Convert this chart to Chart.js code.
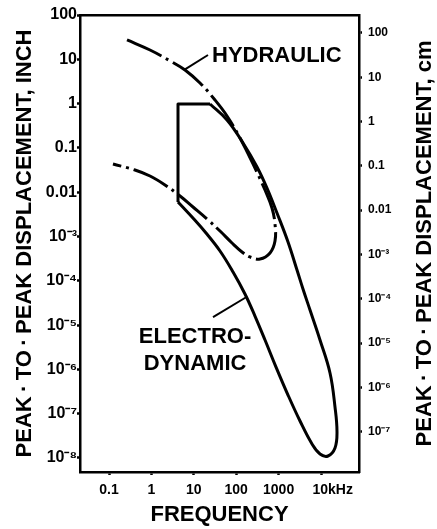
<!DOCTYPE html>
<html>
<head>
<meta charset="utf-8">
<script src="https://cdn.jsdelivr.net/npm/chart.js@4/dist/chart.umd.min.js"></script>
<style>
  html, body { margin: 0; padding: 0; background: #fff; }
  canvas { display: block; }
</style>
</head>
<body>
<canvas id="chart" width="437" height="529"></canvas>
<script>
// Frequency axis (Hz): decade ticks and their labels
const freqTicks = [0.1, 1, 10, 100, 1000, 10000];
const freqTickLabels = ['0.1', '1', '10', '100', '1000', '      10kHz'];

// Displacement axes: inch on the left, cm on the right
const inchTicks = [1e-8, 1e-7, 1e-6, 1e-5, 1e-4, 1e-3, 0.01, 0.1, 1, 10, 100];
const inchTickLabels = ['10⁻⁸', '10⁻⁷', '10⁻⁶', '10⁻⁵', '10⁻⁴', '10⁻³', '0.01', '0.1', '1', '10', '100'];
const cmTicks = [1e-7, 1e-6, 1e-5, 1e-4, 1e-3, 0.01, 0.1, 1, 10, 100];
const cmTickLabels = ['10⁻⁷', '10⁻⁶', '10⁻⁵', '10⁻⁴', '10⁻³', '0.01', '0.1', '1', '10', '100'];

// Axis ranges
const freqRange = [0.0207, 78700];
const inchRange = [4.83e-9, 100];
const CM_PER_INCH = 2.54;

// Hydraulic shaker envelope (dash-dot): frequency in Hz, displacement in inch
const hydraulicFreq = [0.266, 0.927, 3.06, 6.2, 14.0, 31.6, 60.7, 123, 249, 478, 698, 822,
                       822, 627, 364, 211, 137, 79.6, 41.5, 20.5, 9.57, 4.73, 2.09, 0.927, 0.41, 0.124];
const hydraulicDisp = [27.3, 16.2, 8.69, 5.73, 2.92, 1.205, 0.525, 0.167, 0.0434, 0.0112, 0.0044, 0.00191,
                       0.000791, 0.000425, 0.00031, 0.000345, 0.000447, 0.000713, 0.00133, 0.00248,
                       0.00463, 0.0082, 0.0146, 0.0232, 0.0317, 0.0434];

// Electrodynamic shaker envelope (solid): low-frequency stroke limit
const electroLimitFreq = [4.24, 4.24, 24.1];
const electroLimitDisp = [0.00601, 0.98, 0.98];
// Electrodynamic shaker envelope: upper limits down to the resonance tip, then the lower bound back
const electroFreq = [24.1, 60.7, 145, 310, 532, 916, 1667, 2716, 3758, 5505, 9470, 16300, 21380, 23830, 21380,
                     14620, 9470, 6138, 3199, 1667, 869, 478, 277, 161, 84.2, 41.5, 19.4, 9.08, 4.24];
const electroDisp = [0.98, 0.427, 0.129, 0.0371, 0.0124, 0.00339, 7.52e-4, 1.75e-4, 6.53e-5, 2.19e-5,
                     4.61e-6, 8.3e-7, 1.42e-7, 3.86e-8, 1.68e-8,
                     1.11e-8, 1.23e-8, 2.07e-8, 6.84e-8, 2.64e-7, 1.13e-6, 4.61e-6, 1.6e-5, 5.04e-5,
                     1.58e-4, 4.71e-4, 1.2e-3, 2.75e-3, 6.01e-3];

// Callout lines tying the curve names to their envelopes
const hydraulicLeaderFreq = [6.2, 21.6];
const hydraulicLeaderDisp = [5.9, 12.5];
const electroLeaderFreq = [28.4, 175];
const electroLeaderDisp = [1.52e-5, 4.31e-5];

// Curve names, anchored in data coordinates
const curveNames = [['HYDRAULIC'], ['ELECTRO-', 'DYNAMIC']];
const curveNameFreq = [26.9, 10.7];
const curveNameDisp = [8.7, 3.95e-6];
const curveNameAlign = ['left', 'center'];

const titleLeft = 'PEAK\u2009·\u2009TO\u2009·\u2009PEAK DISPLACEMENT, INCH';
const titleRight = 'PEAK\u2009·\u2009TO\u2009·\u2009PEAK DISPLACEMENT, cm';
const titleBottom = 'FREQUENCY';

const FONT = '"Liberation Sans", Arial, sans-serif';
const INK = '#000';

const pts = (xs, ys) => xs.map((x, i) => ({ x, y: ys[i] }));
const useTicks = values => scale => { scale.ticks = values.map(v => ({ value: v })); };

const curveLabels = {
  id: 'curveLabels',
  afterDatasetsDraw(chart) {
    const { ctx, scales, chartArea } = chart;
    ctx.save();
    ctx.fillStyle = INK;
    ctx.font = 'bold 22px ' + FONT;
    ctx.textBaseline = 'alphabetic';
    curveNames.forEach((lines, i) => {
      const px = scales.x.getPixelForValue(curveNameFreq[i]);
      const py = scales.y.getPixelForValue(curveNameDisp[i]);
      ctx.textAlign = curveNameAlign[i];
      lines.forEach((t, k) => ctx.fillText(t, px, py + k * 27));
    });
    // right-hand axis title, reading bottom to top like the left one
    ctx.font = 'bold 22px ' + FONT;
    ctx.textAlign = 'center';
    ctx.textBaseline = 'middle';
    ctx.translate(scales.yr.right - 12, (chartArea.top + chartArea.bottom) / 2);
    ctx.rotate(-Math.PI / 2);
    ctx.fillText(titleRight, 0, 0);
    ctx.restore();
  }
};

const lineStyle = { borderColor: INK, borderWidth: 3, pointRadius: 0, fill: false };

new Chart(document.getElementById('chart'), {
  type: 'line',
  data: {
    datasets: [
      { ...lineStyle, label: 'Hydraulic', data: pts(hydraulicFreq, hydraulicDisp),
        tension: 0.4, borderDash: [38, 5, 3, 5] },
      { ...lineStyle, label: 'Electrodynamic stroke', data: pts(electroLimitFreq, electroLimitDisp),
        tension: 0, borderJoinStyle: 'round' },
      { ...lineStyle, label: 'Electrodynamic', data: pts(electroFreq, electroDisp), tension: 0.4 },
      { ...lineStyle, borderWidth: 2, label: 'leader', data: pts(hydraulicLeaderFreq, hydraulicLeaderDisp), tension: 0 },
      { ...lineStyle, borderWidth: 2, label: 'leader', data: pts(electroLeaderFreq, electroLeaderDisp), tension: 0 }
    ]
  },
  options: {
    responsive: false,
    animation: false,
    events: [],
    layout: { padding: { top: 15, left: 0, right: 0, bottom: 0 } },
    plugins: { legend: { display: false }, tooltip: { enabled: false } },
    scales: {
      x: {
        type: 'logarithmic', position: 'bottom',
        min: freqRange[0], max: freqRange[1],
        afterBuildTicks: useTicks(freqTicks),
        afterFit: s => { s.height = 57; },
        border: { display: true, color: INK, width: 2.5 },
        grid: { display: true, drawOnChartArea: false, drawTicks: true, tickLength: 3, tickWidth: 2.5, color: INK },
        ticks: { autoSkip: false, maxRotation: 0, minRotation: 0, padding: 7, color: INK,
                 font: { family: FONT, size: 14, weight: 'bold' },
                 callback: (v, i) => freqTickLabels[i] },
        title: { display: true, text: titleBottom, color: INK,
                 font: { family: FONT, size: 22, weight: 'bold', lineHeight: 1 },
                 padding: { top: 0, bottom: 3 } }
      },
      xTop: {
        type: 'logarithmic', position: 'top',
        min: freqRange[0], max: freqRange[1],
        afterFit: s => { s.height = 0; },
        border: { display: true, color: INK, width: 2.5 },
        grid: { display: false },
        ticks: { display: false }
      },
      y: {
        type: 'logarithmic', position: 'left',
        min: inchRange[0], max: inchRange[1],
        afterBuildTicks: useTicks(inchTicks),
        afterFit: s => { s.width = 80; },
        border: { display: true, color: INK, width: 2.5 },
        grid: { display: true, drawOnChartArea: false, drawTicks: true, tickLength: 3, tickWidth: 2.5, color: INK },
        ticks: { autoSkip: false, padding: 0, color: INK,
                 font: { family: FONT, size: 16, weight: 'bold' },
                 callback: (v, i) => inchTickLabels[i] },
        title: { display: true, text: titleLeft, color: INK,
                 font: { family: FONT, size: 22, weight: 'bold', lineHeight: 1 },
                 padding: { top: 14, bottom: 0 } }
      },
      yr: {
        type: 'logarithmic', position: 'right',
        min: inchRange[0] * CM_PER_INCH, max: inchRange[1] * CM_PER_INCH,
        afterBuildTicks: useTicks(cmTicks),
        afterFit: s => { s.width = 78; },
        border: { display: true, color: INK, width: 2.5 },
        grid: { display: true, drawOnChartArea: false, drawTicks: true, tickLength: 3, tickWidth: 2.5, color: INK },
        ticks: { autoSkip: false, padding: 6, color: INK,
                 font: { family: FONT, size: 12, weight: 'bold' },
                 callback: (v, i) => cmTickLabels[i] }
      }
    }
  },
  plugins: [curveLabels]
});
</script>
</body>
</html>
